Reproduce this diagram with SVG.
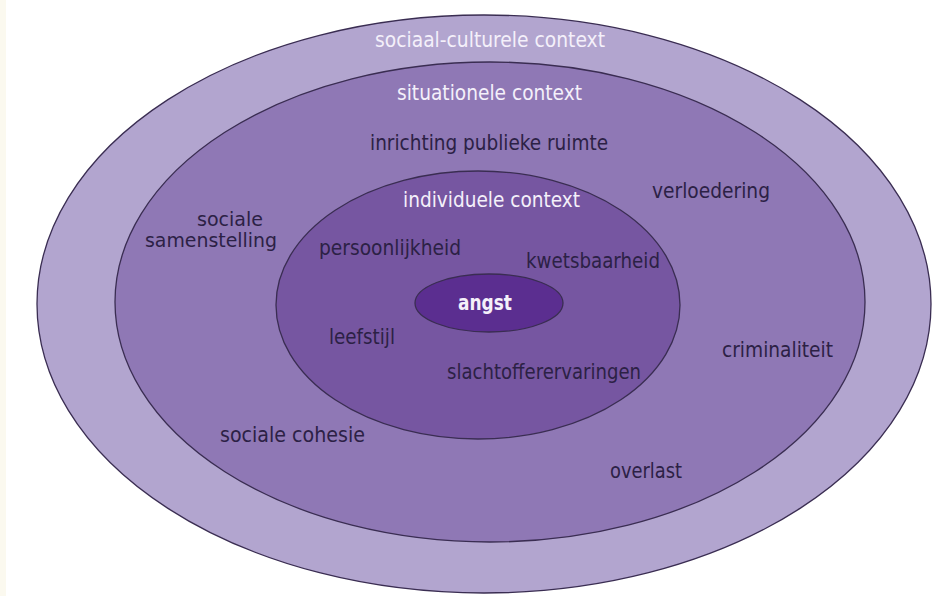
<svg xmlns="http://www.w3.org/2000/svg" width="932" height="596" viewBox="0 0 932 596">
<style>
.ring{stroke:#3a2d52;stroke-width:1.3}
.t{font-family:"Liberation Sans Narrow","DejaVu Sans Condensed","Liberation Sans",sans-serif;font-size:21px;fill:#2c2145}
.w{fill:#f4f0fa}
.s{font-size:19px}
</style>
<rect x="0" y="0" width="932" height="596" fill="#ffffff"/>
<rect x="0" y="0" width="6" height="596" fill="#fbf9ef"/>
<g id="sociaal-culturele">
<ellipse class="ring" cx="484" cy="304" rx="447" ry="289" fill="#b2a5cf"/>
<text class="t w" x="375" y="47" textLength="230" lengthAdjust="spacingAndGlyphs">sociaal-culturele context</text>
</g>
<g id="situationele">
<ellipse class="ring" cx="490" cy="302" rx="375" ry="240" fill="#8f78b5"/>
<text class="t w" x="397" y="100" textLength="185" lengthAdjust="spacingAndGlyphs">situationele context</text>
<text class="t" x="370" y="150" textLength="238" lengthAdjust="spacingAndGlyphs">inrichting publieke ruimte</text>
<text class="t" x="652" y="198" textLength="118" lengthAdjust="spacingAndGlyphs">verloedering</text>
<text class="t s" x="197" y="226" textLength="66" lengthAdjust="spacingAndGlyphs">sociale</text>
<text class="t s" x="145" y="247" textLength="132" lengthAdjust="spacingAndGlyphs">samenstelling</text>
<text class="t" x="722" y="357" textLength="111" lengthAdjust="spacingAndGlyphs">criminaliteit</text>
<text class="t" x="220" y="442" textLength="145" lengthAdjust="spacingAndGlyphs">sociale cohesie</text>
<text class="t" x="610" y="478" textLength="72" lengthAdjust="spacingAndGlyphs">overlast</text>
</g>
<g id="individuele">
<ellipse class="ring" cx="478" cy="305" rx="202" ry="134" fill="#7656a1"/>
<text class="t w" x="403" y="207" textLength="177" lengthAdjust="spacingAndGlyphs">individuele context</text>
<text class="t" x="319" y="255" textLength="142" lengthAdjust="spacingAndGlyphs">persoonlijkheid</text>
<text class="t" x="526" y="268" textLength="134" lengthAdjust="spacingAndGlyphs">kwetsbaarheid</text>
<text class="t" x="329" y="344" textLength="66" lengthAdjust="spacingAndGlyphs">leefstijl</text>
<text class="t" x="447" y="379" textLength="194" lengthAdjust="spacingAndGlyphs">slachtofferervaringen</text>
</g>
<g id="angst">
<ellipse class="ring" cx="489" cy="303" rx="74" ry="29" fill="#5b2e90"/>
<text class="t w" x="458" y="310" textLength="54" lengthAdjust="spacingAndGlyphs" font-weight="bold">angst</text>
</g>
<g id="connectors"></g>
</svg>
